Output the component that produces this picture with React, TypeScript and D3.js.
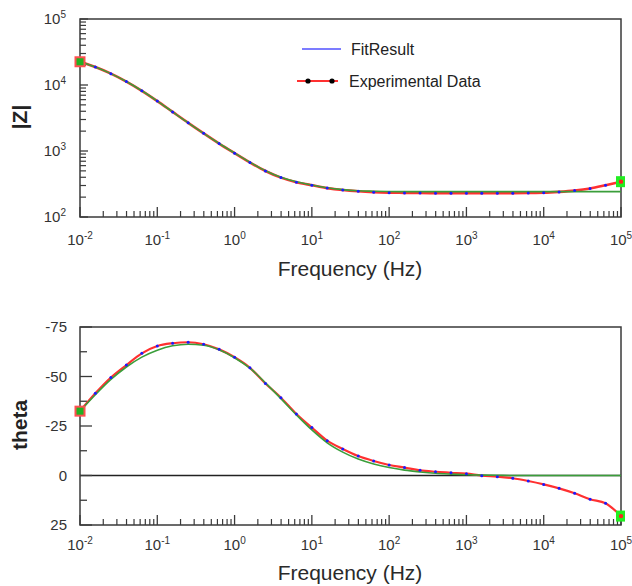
import React from "react";
import * as d3 from "d3";

const freqs = [0.01, 0.0158, 0.0251, 0.0398, 0.0631, 0.1, 0.158, 0.251, 0.398, 0.631, 1, 1.58, 2.51, 3.98, 6.31, 10, 15.8, 25.1, 39.8, 63.1, 100, 158, 251, 398, 631, 1000, 1580, 2510, 3980, 6310, 10000, 15800, 25100, 39800, 63100, 100000];

const zExp = [22500, 18700, 14860, 11270, 8170, 5710, 3910, 2670, 1850, 1295, 927, 671, 498, 395, 337, 303, 274, 256, 245, 238, 234, 232, 231, 230, 230, 230, 230, 230, 230, 231, 233, 240, 251, 270, 303, 343];
const zFit = [22500, 18700, 14860, 11270, 8170, 5710, 3910, 2670, 1850, 1300, 932, 676, 503, 399, 341, 306, 277, 260, 250, 246, 243, 242, 242, 242, 242, 242, 242, 242, 242, 242, 242, 242, 242, 242, 242, 242];

const thetaExp = [-32.5, -41.5, -49.5, -55.8, -61.7, -65.4, -66.8, -67.3, -66.3, -63.7, -59.7, -54.4, -46.5, -39.3, -31.1, -24.2, -17.6, -13.4, -9.8, -7.3, -5.3, -4.0, -2.6, -1.9, -1.4, -0.9, 0.1, 0.6, 1.4, 2.8, 4.5, 6.5, 9.0, 12.0, 14.0, 20.5];
const thetaFit = [-32.5, -40.8, -48.5, -54.8, -59.8, -63.3, -65.5, -66.3, -65.8, -63.5, -59.5, -54.2, -46.8, -38.8, -30.6, -23.0, -16.5, -11.8, -8.3, -5.8, -4.0, -2.7, -1.8, -1.1, -0.7, -0.4, -0.2, -0.1, 0, 0, 0, 0, 0, 0, 0, 0];

const xTickExps = [-2, -1, 0, 1, 2, 3, 4, 5];
const zTickExps = [2, 3, 4, 5];
const thetaTicks = [-75, -50, -25, 0, 25];
const thetaMinor = [-62.5, -37.5, -12.5, 12.5];

const legendLabels = ["FitResult", "Experimental Data"];
const xTitle = "Frequency (Hz)";

const FONT = "'Liberation Sans', Arial, Helvetica, sans-serif";
const FRAME = "#3a3a3a";
const RED = "#ff3030";
const GREEN = "#3a9e3a";
const BLUE = "#1a1aff";

const xL = 80, xR = 621;
const x = d3.scaleLog().domain([0.01, 1e5]).range([xL, xR]);
const yZ = d3.scaleLog().domain([100, 1e5]).range([217, 19]);
const yT = d3.scaleLinear().domain([-75, 25]).range([327, 525]);

function minorDecades(lo: number, hi: number) {
  const out: number[] = [];
  for (let e = lo; e < hi; e++) for (let m = 2; m <= 9; m++) out.push(m * Math.pow(10, e));
  return out;
}

function XAxis({ y0, labelY, titleY }: { y0: number; labelY: number; titleY: number }) {
  return (
    <g>
      {xTickExps.map((e) => (
        <line key={"M" + e} x1={x(Math.pow(10, e))} x2={x(Math.pow(10, e))} y1={y0} y2={y0 - 10} stroke={FRAME} strokeWidth={1.3} />
      ))}
      {minorDecades(-2, 5).map((v, i) => (
        <line key={"m" + i} x1={x(v)} x2={x(v)} y1={y0} y2={y0 - 6} stroke={FRAME} strokeWidth={1.2} />
      ))}
      {xTickExps.map((e) => (
        <text key={"L" + e} x={x(Math.pow(10, e))} y={labelY} textAnchor="middle" fontSize={15} fill="#333" fontFamily={FONT}>
          <tspan>10</tspan>
          <tspan dy={-6} fontSize={10}>{String(e)}</tspan>
        </text>
      ))}
      <text x={350} y={titleY} textAnchor="middle" fontSize={21} fill="#2a2a2a" fontFamily={FONT}>{xTitle}</text>
    </g>
  );
}

function Frame({ top, bottom }: { top: number; bottom: number }) {
  return <rect x={xL} y={top} width={xR - xL} height={bottom - top} fill="none" stroke={FRAME} strokeWidth={1.5} />;
}

export default function App() {
  const lineZExp = d3.line<number>().x((_, i) => x(freqs[i])).y((d) => yZ(d)).curve(d3.curveMonotoneX);
  const lineTExp = d3.line<number>().x((_, i) => x(freqs[i])).y((d) => yT(d)).curve(d3.curveMonotoneX);
  const n = freqs.length;

  const startMarker = (cx: number, cy: number) => (
    <rect x={cx - 4.5} y={cy - 4.5} width={9} height={9} fill="#22b022" stroke="#ff5050" strokeWidth={2} />
  );
  const endMarker = (cx: number, cy: number) => (
    <g>
      <rect x={cx - 5} y={cy - 5.5} width={9} height={11} fill="#22ee22" />
      <circle cx={cx} cy={cy} r={2.2} fill="#ff2020" />
    </g>
  );

  return (
    <svg width={632} height={586} style={{ position: "absolute", left: 0, top: 0, background: "#fff" }}>
      {/* ---------- Top panel |Z| ---------- */}
      <Frame top={19} bottom={217} />
      {zTickExps.map((e) => (
        <line key={"zM" + e} x1={xL} x2={xL + 8} y1={yZ(Math.pow(10, e))} y2={yZ(Math.pow(10, e))} stroke={FRAME} strokeWidth={1.3} />
      ))}
      {minorDecades(2, 5).map((v, i) => (
        <line key={"zm" + i} x1={xL} x2={xL + 6} y1={yZ(v)} y2={yZ(v)} stroke={FRAME} strokeWidth={1.2} />
      ))}
      {zTickExps.map((e) => (
        <text key={"zL" + e} x={66} y={yZ(Math.pow(10, e)) + 5} textAnchor="end" fontSize={15} fill="#333" fontFamily={FONT}>
          <tspan>10</tspan>
          <tspan dy={-6} fontSize={10}>{String(e)}</tspan>
        </text>
      ))}
      <text transform="translate(27,117) rotate(-90)" textAnchor="middle" fontSize={21} fontWeight="bold" fill="#222" fontFamily={FONT}>|Z|</text>
      <XAxis y0={217} labelY={245} titleY={276} />

      <path d={lineZExp(zExp) || ""} fill="none" stroke={RED} strokeWidth={2.6} />
      <path d={lineZExp(zFit) || ""} fill="none" stroke={GREEN} strokeWidth={1.6} />
      {zExp.slice(1, n - 1).map((v, i) => (
        <circle key={"zd" + i} cx={x(freqs[i + 1])} cy={yZ(v)} r={1.5} fill={BLUE} />
      ))}
      {startMarker(x(freqs[0]), yZ(zExp[0]))}
      {endMarker(x(freqs[n - 1]), yZ(zExp[n - 1]))}

      {/* legend */}
      <line x1={302} x2={341} y1={49} y2={49} stroke="#5050ff" strokeWidth={1.5} />
      <text x={351} y={49} dy="0.35em" fontSize={16} fill="#222" fontFamily={FONT}>{legendLabels[0]}</text>
      <line x1={297} x2={338} y1={81} y2={81} stroke={RED} strokeWidth={2} />
      <circle cx={308} cy={81} r={2.6} fill="#000" />
      <circle cx={332} cy={81} r={2.6} fill="#000" />
      <text x={349} y={81} dy="0.35em" fontSize={16} fill="#222" fontFamily={FONT}>{legendLabels[1]}</text>

      {/* ---------- Bottom panel theta ---------- */}
      <Frame top={327} bottom={525} />
      <line x1={xL} x2={xR} y1={yT(0)} y2={yT(0)} stroke="#222" strokeWidth={1.3} />
      {thetaTicks.map((t) => (
        <line key={"tM" + t} x1={xL} x2={xL + 12} y1={yT(t)} y2={yT(t)} stroke={FRAME} strokeWidth={1.3} />
      ))}
      {thetaMinor.map((t) => (
        <line key={"tm" + t} x1={xL} x2={xL + 7} y1={yT(t)} y2={yT(t)} stroke={FRAME} strokeWidth={1.3} />
      ))}
      {thetaTicks.map((t) => (
        <text key={"tL" + t} x={67} y={yT(t) + 5} textAnchor="end" fontSize={15} fill="#333" fontFamily={FONT}>{String(t)}</text>
      ))}
      <text transform="translate(27,425) rotate(-90)" textAnchor="middle" fontSize={21} fontWeight="bold" fill="#222" fontFamily={FONT}>theta</text>
      <XAxis y0={525} labelY={550} titleY={580} />

      <path d={lineTExp(thetaExp) || ""} fill="none" stroke={RED} strokeWidth={2.2} />
      <path d={lineTExp(thetaFit) || ""} fill="none" stroke={GREEN} strokeWidth={1.6} />
      {thetaExp.slice(1, n - 1).map((v, i) => (
        <circle key={"td" + i} cx={x(freqs[i + 1])} cy={yT(v)} r={1.5} fill={BLUE} />
      ))}
      {startMarker(x(freqs[0]), yT(thetaExp[0]))}
      {endMarker(x(freqs[n - 1]), yT(thetaExp[n - 1]))}
    </svg>
  );
}
